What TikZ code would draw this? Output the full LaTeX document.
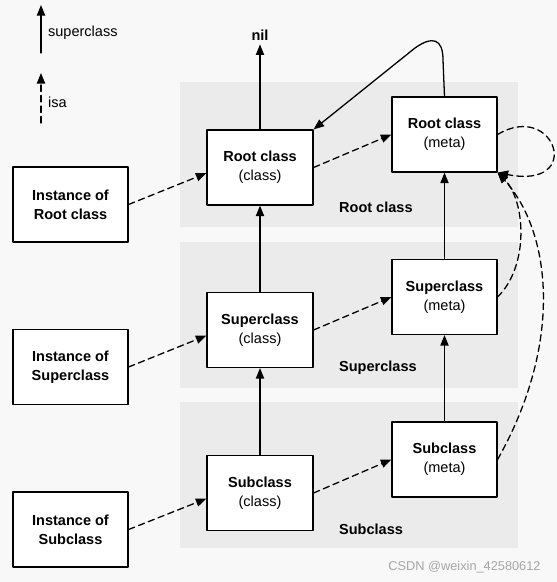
\documentclass[tikz,border=0pt]{standalone}
\usepackage{fontspec}
\setmainfont{Liberation Sans}
\usetikzlibrary{arrows.meta}
\definecolor{paper}{HTML}{F8F8F8}
\definecolor{band}{HTML}{EBEBEB}

\begin{document}
\begin{tikzpicture}[x=0.03cm,y=-0.03cm,line cap=round,line join=round,
  every node/.style={font=\fontsize{12.4}{16}\selectfont},
  classbox/.style={draw,fill=white,line width=1pt,align=center,inner sep=0pt,
    minimum width=3.18cm,minimum height=2.25cm},
  instbox/.style={classbox,minimum width=3.45cm,font=\fontsize{12.4}{16}\selectfont\bfseries},
  bandlabel/.style={anchor=west,font=\fontsize{12.4}{16}\selectfont\bfseries},
  super/.style={line width=1.1pt,-{Triangle[length=9pt,width=7pt]}},
  isa/.style={super,dash pattern=on 5.5pt off 3.5pt}]
  \fill[paper] (0,0) rectangle (557,582);
  \useasboundingbox (0,0) rectangle (557,582);
  % bands
  \fill[band] (180,82) rectangle (518,227);
  \fill[band] (180,242) rectangle (518,388);
  \fill[band] (180,402) rectangle (518,548);
  \node[bandlabel] (lblroot) at (335,207) {Root class};
  \node[bandlabel] (lblsuper) at (335,368) {Superclass};
  \node[bandlabel] (lblsub) at (335,529) {Subclass};
  % legend
  \coordinate (legA) at (41,53);
  \coordinate (legB) at (41,5);
  \coordinate (legC) at (41,123);
  \coordinate (legD) at (41,73);
  \draw[super] (legA) -- (legB);
  \draw[isa] (legC) -- (legD);
  \node[anchor=west] (legsuper) at (44,33) {superclass};
  \node[anchor=west] (legisa) at (44,102) {isa};
  % boxes
  \node[instbox] (ir) at (70.5,204.5) {Instance of\\Root class};
  \node[instbox] (is) at (70.5,367) {Instance of\\Superclass};
  \node[instbox] (ib) at (70.5,529.5) {Instance of\\Subclass};
  \node[classbox] (rc) at (260,167.5) {\textbf{Root class}\\(class)};
  \node[classbox] (sc) at (260,330) {\textbf{Superclass}\\(class)};
  \node[classbox] (bc) at (260,493) {\textbf{Subclass}\\(class)};
  \node[classbox,minimum width=3.15cm] (rm) at (444.5,134.5) {\textbf{Root class}\\(meta)};
  \node[classbox,minimum width=3.15cm] (sm) at (444.5,297) {\textbf{Superclass}\\(meta)};
  \node[classbox,minimum width=3.15cm] (bm) at (444.5,459.5) {\textbf{Subclass}\\(meta)};
  \node[font=\fontsize{12.4}{16}\selectfont\bfseries] (nil) at (260,35) {nil};
  % superclass links
  \draw[super] (bc) -- (sc);
  \draw[super] (sc) -- (rc);
  \draw[super] (rc) -- (nil);
  \draw[super] (bm) -- (sm);
  \draw[super] (sm) -- (rm);
  \draw[super] (rm.north) -- (443,60) .. controls (443,38) and (432,36) .. (415,48) -- (rc.north east);
  % isa links
  \draw[isa] (ir.east) -- (rc.186);
  \draw[isa] (is.east) -- (sc.186);
  \draw[isa] (ib.east) -- (bc.186);
  \draw[isa] (rc.east) -- (rm.west);
  \draw[isa] (sc.east) -- (sm.west);
  \draw[isa] (bc.east) -- (bm.west);
  \draw[isa] (rm.east) .. controls (555,100) and (585,190) .. (rm.south east);
  \draw[isa] (sm.east) .. controls (530,265) and (525,200) .. (rm.south east);
  \draw[isa] (bm.east) .. controls (565,340) and (550,230) .. (rm.south east);
  \node[text=gray!70,font=\fontsize{10.9}{13}\selectfont] (wm) at (464.5,567) {CSDN @weixin\_42580612};
\end{tikzpicture}
\end{document}
